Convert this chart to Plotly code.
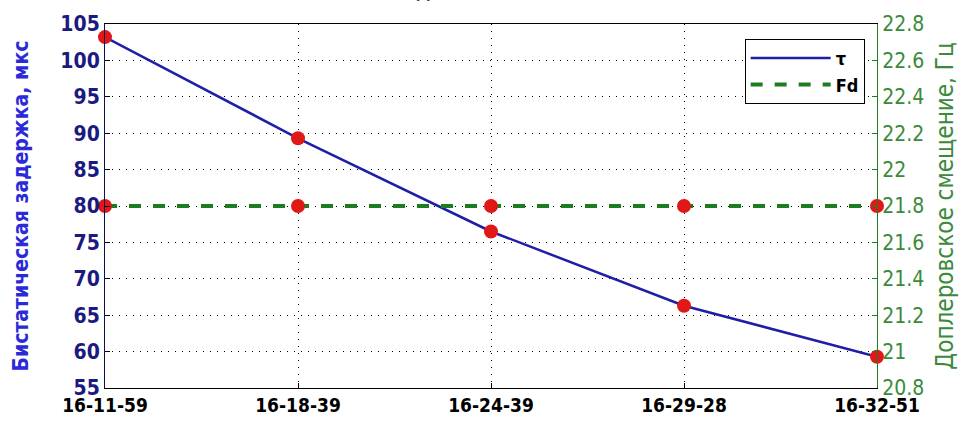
import plotly.graph_objects as go

times = ["16-11-59", "16-18-39", "16-24-39", "16-29-28", "16-32-51"]
tau = [103.2, 89.3, 76.5, 66.3, 59.3]
fd = [21.8, 21.8, 21.8, 21.8, 21.8]

left_ticks = [55, 60, 65, 70, 75, 80, 85, 90, 95, 100, 105]
right_ticks = [20.8, 21.0, 21.2, 21.4, 21.6, 21.8, 22.0, 22.2, 22.4, 22.6, 22.8]
right_labels = ["20.8", "21", "21.2", "21.4", "21.6", "21.8", "22", "22.2", "22.4", "22.6", "22.8"]

NARROW = "Liberation Sans Narrow, DejaVu Sans Condensed, Arial Narrow, sans-serif"
BLUE = "#1f1fa6"
GREEN = "#1e7d1e"
RED = "#e01818"

fig = go.Figure()
fig.add_trace(go.Scatter(x=times, y=tau, mode="lines", name="τ",
                         line=dict(color=BLUE, width=2.5), cliponaxis=False))
fig.add_trace(go.Scatter(x=times, y=tau, mode="markers", showlegend=False,
                         marker=dict(color=RED, size=14), cliponaxis=False))
fig.add_trace(go.Scatter(x=times, y=fd, mode="lines", name="Fd", yaxis="y2",
                         line=dict(color=GREEN, width=4, dash="dash"), cliponaxis=False))
fig.add_trace(go.Scatter(x=times, y=fd, mode="markers", showlegend=False, yaxis="y2",
                         marker=dict(color=RED, size=14), cliponaxis=False))

fig.update_layout(
    width=973, height=428,
    margin=dict(l=105, r=96, t=22, b=37),
    paper_bgcolor="white", plot_bgcolor="white",
    showlegend=True,
    legend=dict(x=0.984, y=0.959, xanchor="right", yanchor="top",
                bgcolor="white", bordercolor="black", borderwidth=1,
                font=dict(family=NARROW, size=18, color="black", weight="bold"),
                itemwidth=80, tracegroupgap=4),
    xaxis=dict(type="category", range=[0, 4], showline=True, linecolor="black",
               linewidth=1, mirror=True, ticks="inside", ticklen=5, tickcolor="black",
               showgrid=True, gridcolor="black", griddash="1px,6px", gridwidth=1,
               tickfont=dict(family=NARROW, size=19, color="black", weight="bold"),
               zeroline=False),
    yaxis=dict(range=[55, 105], tickvals=left_ticks, showline=True, linecolor="#101050",
               linewidth=1, ticks="inside", ticklen=5, tickcolor="black",
               showgrid=True, gridcolor="black", griddash="1px,6px", gridwidth=1,
               tickfont=dict(family=NARROW, size=21, color="#1a1a80", weight="bold"),
               title=dict(text="Бистатическая задержка, мкс", standoff=26,
                          font=dict(family=NARROW, size=21, color="#2a2ad8", weight="bold")),
               zeroline=False),
    yaxis2=dict(range=[20.8, 22.8], tickvals=right_ticks, ticktext=right_labels,
                overlaying="y", side="right", showline=True, linecolor=GREEN,
                linewidth=1, ticks="inside", ticklen=5, tickcolor=GREEN,
                showgrid=False, zeroline=False,
                tickfont=dict(family=NARROW, size=21, color="#3a8a3a"),
                title=dict(text="Доплеровское смещение, Гц", standoff=12,
                           font=dict(family=NARROW, size=24, color="#3a8a3a"))),
)

fig.add_annotation(text="Данные", xref="paper", yref="paper", x=0.45, y=1,
                   yanchor="bottom", yshift=20, showarrow=False,
                   font=dict(family=NARROW, size=18, color="black", weight="bold"))

fig.write_html("out.html")
